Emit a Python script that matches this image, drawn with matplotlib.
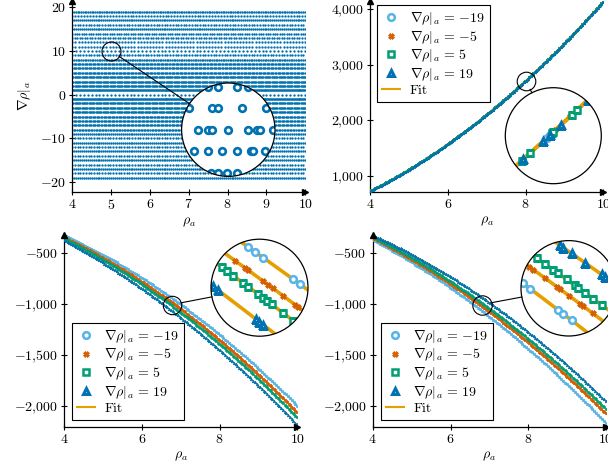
import numpy as np
import matplotlib
matplotlib.use('Agg')
import matplotlib.pyplot as plt
from matplotlib.patches import Circle
from matplotlib.lines import Line2D
from matplotlib.ticker import FuncFormatter, FixedLocator

plt.rcParams['font.family'] = 'serif'
plt.rcParams['font.serif'] = ['cmr10', 'DejaVu Serif']
plt.rcParams['mathtext.fontset'] = 'cm'
plt.rcParams['font.size'] = 10

W, H = 608, 467

C_LB = '#56B4E9'   # grad = -19
C_OR = '#D55E00'   # grad = -5
C_GR = '#009E73'   # grad = 5
C_BL = '#0072B2'   # grad = 19
C_FIT = '#E69F00'

# --- top left: sample grid (rho_a, grad rho|_a) ---
grad_levels = list(range(19, -20, -1))
row_step = [0.045, 0.075, 0.05, 0.07, 0.05, 0.06, 0.065, 0.08, 0.08, 0.1,
            0.07, 0.045, 0.035, 0.035, 0.035, 0.03, 0.03, 0.03, 0.025, 0.1,
            0.025, 0.03, 0.03, 0.03, 0.035, 0.035, 0.035, 0.04, 0.05, 0.07,
            0.05, 0.07, 0.05, 0.07, 0.05, 0.07, 0.05, 0.07, 0.05]

# points seen inside the top-left magnifier (rows 12..8 around rho=5)
tl_zoom_rows = [12, 11, 10, 9, 8]
tl_zoom_rho = [
    [4.896, 4.948, 5.047, 5.104],
    [4.796, 4.916, 4.948, 5.073, 5.195],
    [4.840, 4.896, 4.916, 5.000, 5.104, 5.148, 5.166, 5.235],
    [4.821, 4.896, 4.965, 5.047, 5.117, 5.127, 5.192],
    [4.908, 4.948, 4.995, 5.047],
]

# --- curves, read at rho = 4..10 ---
series_grad = [-19, -5, 5, 19]
series_step = [0.05, 0.035, 0.035, 0.045]
series_col = [C_LB, C_OR, C_GR, C_BL]
series_mk = ['o', 'X', 's', '^']
rho_knots = [4, 5, 6, 7, 8, 9, 10]

tr_vals = [712, 1130, 1580, 2100, 2700, 3380, 4150]

bl_vals = [
    [-330, -521, -746, -1007, -1302, -1634, -2000],
    [-350, -549, -783, -1052, -1355, -1693, -2065],
    [-360, -567, -809, -1084, -1394, -1738, -2115],
    [-378, -598, -851, -1136, -1453, -1803, -2185],
]
br_vals = [
    [-375, -592, -843, -1125, -1441, -1789, -2170],
    [-355, -566, -806, -1078, -1380, -1713, -2076],
    [-345, -548, -782, -1048, -1344, -1672, -2030],
    [-330, -514, -733, -987, -1276, -1600, -1958],
]

# points seen inside the magnifiers
tr_zoom_rho = [
    [7.977, 7.994],
    [7.894, 7.994, 8.019, 8.094],
    [7.853, 7.894, 8.002, 8.010, 8.102, 8.127],
    [7.860, 7.960, 7.994, 8.050, 8.184],
]
bl_zoom_rho = [
    [6.725, 6.758, 6.799, 6.945, 6.978],
    [6.660, 6.709, 6.725, 6.799, 6.823, 6.847, 6.896, 6.953, 6.969],
    [6.596, 6.620, 6.652, 6.701, 6.725, 6.774, 6.799, 6.815, 6.840, 6.896, 6.945],
    [6.553, 6.579, 6.763, 6.779, 6.799],
]
br_zoom_rho = [
    [6.560, 6.598, 6.746, 6.772, 6.816],
    [6.594, 6.615, 6.676, 6.737, 6.755, 6.803, 6.859, 6.876, 6.925],
    [6.633, 6.676, 6.720, 6.746, 6.790, 6.833, 6.850, 6.885, 6.929, 6.972],
    [6.755, 6.772, 6.816, 6.885, 6.972, 6.990],
]

fig = plt.figure(figsize=(W / 100, H / 100), dpi=100)


def add_ax(left, right, top, bottom):
    return fig.add_axes([left / W, 1 - bottom / H, (right - left) / W, (bottom - top) / H])


def fmt(v, pos):
    s = '{:,}'.format(abs(int(round(v)))).replace(',', '{,}')
    return ('$-' if v < 0 else '$') + s + '$'


def style(ax, xt, yt):
    for s in ['top', 'right']:
        ax.spines[s].set_visible(False)
    for s in ['left', 'bottom']:
        ax.spines[s].set_linewidth(0.9)
    ax.xaxis.set_major_locator(FixedLocator(xt))
    ax.yaxis.set_major_locator(FixedLocator(yt))
    ax.xaxis.set_major_formatter(FuncFormatter(fmt))
    ax.yaxis.set_major_formatter(FuncFormatter(fmt))
    ax.tick_params(direction='inout', length=5, width=0.8, pad=2, labelsize=10)
    ax.plot(1, 0, marker='>', ms=4.5, color='k', transform=ax.transAxes, clip_on=False, zorder=6)
    ax.plot(0, 1, marker='^', ms=4.5, color='k', transform=ax.transAxes, clip_on=False, zorder=6)
    ax.set_xlabel(r'$\rho_a$', labelpad=3)


def zoom_circle(ax, xc, yc, r_small, bx, by, r_big):
    pos = ax.get_position()
    x0, x1 = ax.get_xlim()
    y0, y1 = ax.get_ylim()
    sx = pos.width * W / (x1 - x0)
    sy = pos.height * H / (y1 - y0)
    ax.plot([xc], [yc], 'o', ms=2 * r_small * 0.72, mfc='none', mec='k', mew=0.8, zorder=7)
    axi = fig.add_axes([(bx - r_big) / W, 1 - (by + r_big) / H, 2 * r_big / W, 2 * r_big / H])
    axi.set_xlim(xc - r_small / sx, xc + r_small / sx)
    axi.set_ylim(yc - r_small / sy, yc + r_small / sy)
    axi.axis('off')
    px = pos.x0 * W + (xc - x0) * sx
    py = (1 - pos.y1) * H + (y1 - yc) * sy
    dx, dy = bx - px, by - py
    d = np.hypot(dx, dy)
    ux, uy = dx / d, dy / d
    fig.add_artist(Line2D([(px + ux * r_small) / W, (bx - ux * r_big) / W],
                          [1 - (py + uy * r_small) / H, 1 - (by - uy * r_big) / H],
                          color='k', lw=0.8))
    axi.add_patch(Circle((0.5, 0.5), 0.5, transform=axi.transAxes, fc='white', ec='none', zorder=0))
    return axi


def finish_zoom(axi):
    clip = Circle((0.5, 0.5), 0.5, transform=axi.transAxes)
    for ln in axi.lines:
        ln.set_clip_path(clip)
    axi.add_patch(Circle((0.5, 0.5), 0.5, transform=axi.transAxes, fc='none', ec='k',
                         lw=0.9, zorder=10, clip_on=False))


def marker_kw(i, big):
    ms = [4.8, 4.2, 4.6, 4.8][i] if big else 1.8
    mew = [1.8, 0.6, 1.8, 2.2][i] if big else 0.5
    fc = C_OR if i == 1 else ('white' if big else series_col[i])
    return dict(ls='none', marker=series_mk[i], ms=ms, mfc=fc, mec=series_col[i], mew=mew)


# ---------------- top left ----------------
ax = add_ax(72.3, 305.3, 1, 191.7)
ax.set_xlim(4, 10)
ax.set_ylim(-22.2, 21.44)
for g, st in zip(grad_levels, row_step):
    xs = np.arange(4, 10.001, st)
    ax.plot(xs, np.full(len(xs), g), ls='none', marker='o', ms=1.7, mew=0, color=C_BL)
style(ax, [4, 5, 6, 7, 8, 9, 10], [-20, -10, 0, 10, 20])
ax.set_ylabel(r'$\nabla\rho|_a$', labelpad=5)
axi = zoom_circle(ax, 5, 10, 9.5, 228.3, 129.7, 46.7)
for g, xs in zip(tl_zoom_rows, tl_zoom_rho):
    axi.plot(xs, [g] * len(xs), ls='none', marker='o', ms=4.8, mfc='white', mec=C_BL, mew=1.9)
finish_zoom(axi)

legend_handles = [Line2D([], [], **marker_kw(i, True)) for i in range(4)]
legend_handles.append(Line2D([], [], color=C_FIT, lw=1.5))
legend_labels = [r'$\nabla\rho|_a \,=\, %d$' % g if g > 0 else r'$\nabla\rho|_a \,=\, {-%d}$' % -g
                 for g in series_grad] + ['Fit']


def curve_panel(ax, vals, zoom_rho, zc, leg_xy, leg_loc):
    fine = np.linspace(4, 10, 300)
    fits = [np.polyfit(rho_knots, v, 2) for v in vals]
    for i in range(4):
        xs = np.arange(4, 10.001, series_step[i])
        ax.plot(fine, np.polyval(fits[i], fine), color=C_FIT, lw=0.7, zorder=2)
        ax.plot(xs, np.polyval(fits[i], xs), zorder=3, **marker_kw(i, False))
    axi = zoom_circle(ax, *zc)
    for i in range(4):
        axi.plot(fine, np.polyval(fits[i], fine), color=C_FIT, lw=2.6, zorder=2)
    for i in range(4):
        xs = np.array(zoom_rho[i])
        axi.plot(xs, np.polyval(fits[i], xs), zorder=3, **marker_kw(i, True))
    finish_zoom(axi)
    leg = ax.legend(legend_handles, legend_labels, loc=leg_loc, bbox_to_anchor=leg_xy,
                    bbox_transform=fig.transFigure, borderaxespad=0, fancybox=False,
                    framealpha=1, edgecolor='k', handlelength=1.3, handletextpad=0.7,
                    labelspacing=0.12, borderpad=0.35, fontsize=10)
    leg.get_frame().set_linewidth(0.8)
    leg.set_zorder(8)


# ---------------- top right ----------------
ax = add_ax(370, 603.4, 1, 191.7)
ax.set_xlim(4, 10)
ax.set_ylim(712, 4144)
style(ax, [4, 6, 8, 10], [1000, 2000, 3000, 4000])
curve_panel(ax, [tr_vals] * 4, tr_zoom_rho, (8.01, 2703, 9.3, 553.3, 135.7, 48),
            (377.3 / W, 1 - 5 / H), 'upper left')

# ---------------- bottom left ----------------
ax = add_ax(64, 297.4, 235, 426.7)
ax.set_xlim(4, 10)
ax.set_ylim(-2202, -327)
style(ax, [4, 6, 8, 10], [-2000, -1500, -1000, -500])
curve_panel(ax, bl_vals, bl_zoom_rho, (6.78, -1007, 9.2, 259.5, 287.7, 48.5),
            (71.7 / W, 1 - 420 / H), 'lower left')

# ---------------- bottom right ----------------
ax = add_ax(372.7, 606.1, 235, 426.7)
ax.set_xlim(4, 10)
ax.set_ylim(-2202, -327)
style(ax, [4, 6, 8, 10], [-2000, -1500, -1000, -500])
curve_panel(ax, br_vals, br_zoom_rho, (6.80, -1007, 9.7, 568.7, 288.3, 47.7),
            (380.7 / W, 1 - 420 / H), 'lower left')

fig.savefig('out.png', dpi=100)
